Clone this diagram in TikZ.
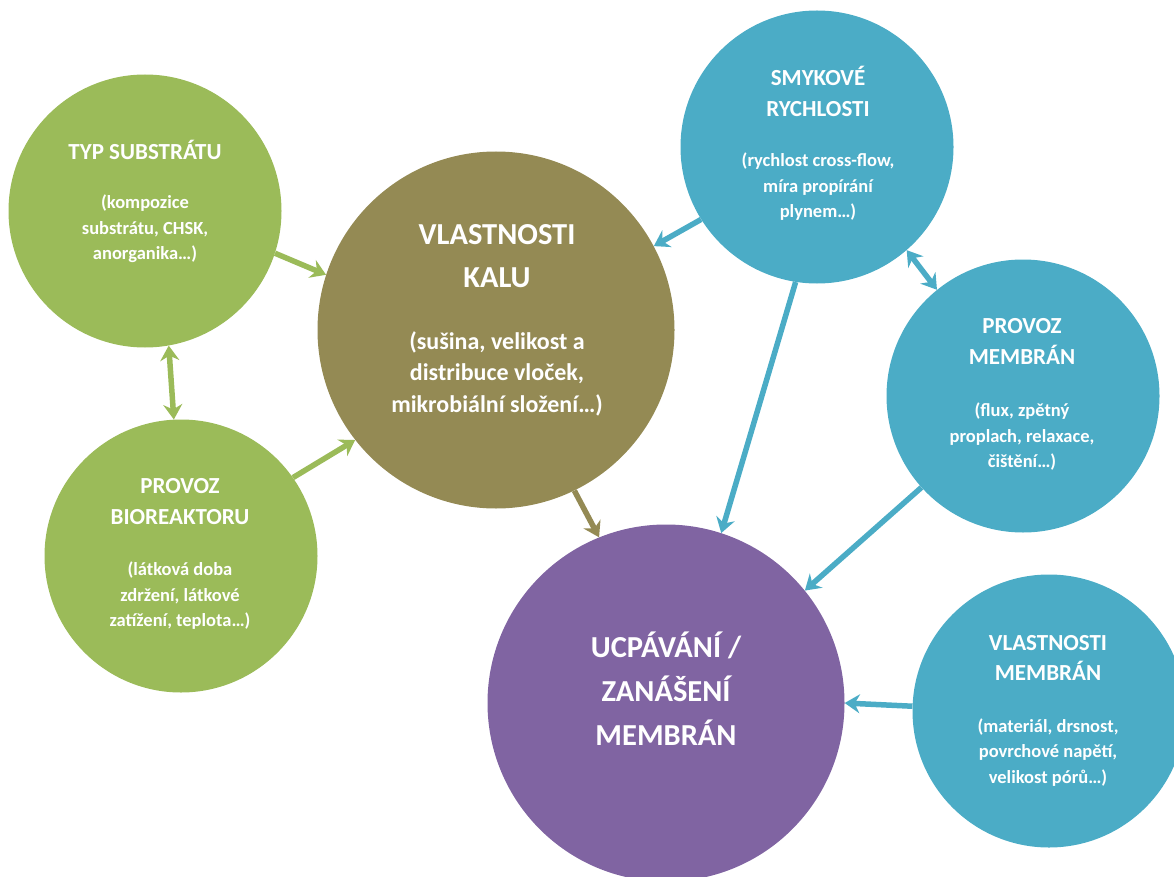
\documentclass[tikz,border=0pt]{standalone}
\usepackage{fontspec}
\setmainfont{Carlito}
\usetikzlibrary{arrows.meta}
\definecolor{cgreen}{HTML}{9BBB59}
\definecolor{colive}{HTML}{948A54}
\definecolor{cblue}{HTML}{4BACC6}
\definecolor{cpurple}{HTML}{8064A2}
\begin{document}
\begin{tikzpicture}[x=1pt,y=-1pt,
  bubble/.style={circle,inner sep=0pt,minimum size=273pt},
  bigbubble/.style={circle,inner sep=0pt,minimum size=357pt},
  txt/.style={text=white,align=center,inner sep=0pt,font=\bfseries},
  ttl/.style={txt,font=\bfseries\fontsize{23}{31}\selectfont},
  bdy/.style={txt,font=\bfseries\fontsize{18.5}{25.5}\selectfont},
  bigttl/.style={txt,font=\bfseries\fontsize{30.5}{43}\selectfont},
  bigbdy/.style={txt,font=\bfseries\fontsize{24}{31.5}\selectfont},
  tip/.style={Stealth[length=15pt,width=19pt,inset=5pt]},
  link/.style={line width=5.5pt,-{Stealth[length=15pt,width=19pt,inset=5pt]}},
  dlink/.style={line width=5.5pt,{Stealth[length=15pt,width=19pt,inset=5pt]}-{Stealth[length=15pt,width=19pt,inset=5pt]}}
]
\useasboundingbox (0,0) rectangle (1174,877);

% circles
\node[bubble,fill=cgreen] (typ) at (145,211) {};
\node[bubble,fill=cgreen] (bio) at (181,556) {};
\node[bigbubble,fill=colive] (kal) at (496,330) {};
\node[bubble,fill=cblue] (smy) at (817,147) {};
\node[bubble,fill=cblue] (pmb) at (1023,396) {};
\node[bigbubble,fill=cpurple] (ucp) at (666,703) {};
\node[bubble,fill=cblue] (vmb) at (1049,711) {};

% labels
\node[ttl] (typ-t) at (145,150) {TYP SUBSTRÁTU};
\node[bdy] (typ-b) at (145,229) {(kompozice\\substrátu, CHSK,\\anorganika…)};
\node[ttl] (bio-t) at (180,501.5) {PROVOZ\\BIOREAKTORU};
\node[bdy] (bio-b) at (180,596) {(látková doba\\zdržení, látkové\\zatížení, teplota…)};
\node[bigttl] (kal-t) at (497,256.5) {VLASTNOSTI\\KALU};
\node[bigbdy] (kal-b) at (497,373.5) {(sušina, velikost a\\distribuce vloček,\\mikrobiální složení…)};
\node[ttl] (smy-t) at (818,91.5) {SMYKOVÉ\\RYCHLOSTI};
\node[bdy] (smy-b) at (818,187) {(rychlost cross-flow,\\míra propírání\\plynem…)};
\node[ttl] (pmb-t) at (1022,341) {PROVOZ\\MEMBRÁN};
\node[bdy] (pmb-b) at (1022,437) {(flux, zpětný\\proplach, relaxace,\\čištění…)};
\node[bigttl,font=\bfseries\fontsize{30.5}{44}\selectfont] (ucp-t) at (666,689) {UCPÁVÁNÍ /\\ZANÁŠENÍ\\MEMBRÁN};
\node[ttl,font=\bfseries\fontsize{23}{30}\selectfont] (vmb-t) at (1048,658) {VLASTNOSTI\\MEMBRÁN};
\node[bdy] (vmb-b) at (1048,752.5) {(materiál, drsnost,\\povrchové napětí,\\velikost pórů…)};

% connectors
\draw[link,cgreen] (typ.-18) -- (kal.162);
\draw[dlink,cgreen] (typ.-80.7) -- (bio.93.4);
\draw[link,cgreen] (bio.35.2) -- (kal.-142.2);
\draw[link,cblue] (smy.-148.3) -- (kal.28.7);
\draw[link,cblue] (smy.-99.3) -- (ucp.72.5);
\draw[dlink,cblue] (smy.-49.5) -- (pmb.129.8);
\draw[link,cblue] (pmb.-138.5) -- (ucp.39.8);
\draw[link,cblue] (vmb.178.3) -- (ucp.0);
\draw[link,colive] (kal.-64.3) -- (ucp.112.9);
\end{tikzpicture}
\end{document}
